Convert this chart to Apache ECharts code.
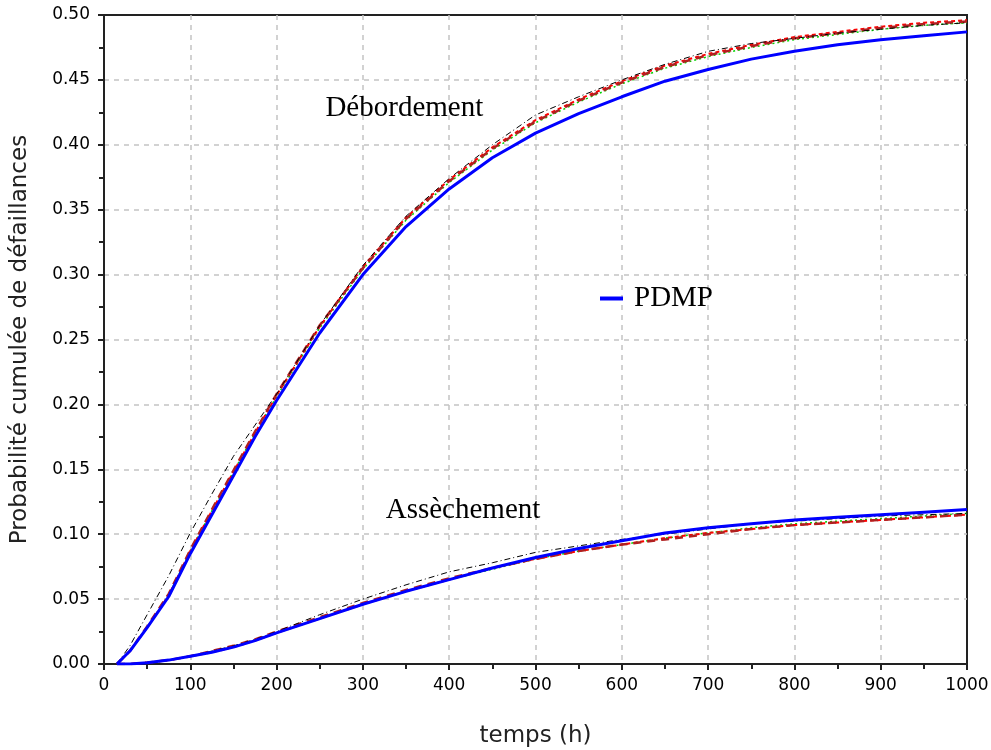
<!DOCTYPE html>
<html>
<head>
<meta charset="utf-8">
<script src="https://cdn.jsdelivr.net/npm/echarts@6/dist/echarts.min.js"></script>
<style>
  html, body { margin: 0; padding: 0; background: #fff; }
  #grid { width: 991px; height: 750px; }
</style>
</head>
<body>
<div id="grid"></div>
<script>
// temps (h)
const times = [15, 30, 50, 75, 100, 125, 150, 175, 200, 250, 300, 350, 400, 450, 500, 550, 600, 650, 700, 750, 800, 850, 900, 950, 1000];

// Débordement
const debPdmp = [0, 0.010, 0.028, 0.052, 0.085, 0.115, 0.145, 0.175, 0.203, 0.255, 0.300, 0.337, 0.366, 0.390, 0.409, 0.424, 0.437, 0.449, 0.458, 0.466, 0.472, 0.477, 0.481, 0.484, 0.487];
const debRed = [0, 0.010, 0.028, 0.053, 0.087, 0.118, 0.148, 0.178, 0.207, 0.260, 0.306, 0.344, 0.373, 0.398, 0.419, 0.435, 0.449, 0.461, 0.470, 0.477, 0.483, 0.487, 0.491, 0.494, 0.496];
const debDarkRed = [0, 0.010, 0.029, 0.054, 0.088, 0.119, 0.149, 0.179, 0.208, 0.261, 0.305, 0.343, 0.372, 0.397, 0.418, 0.434, 0.448, 0.460, 0.469, 0.476, 0.482, 0.486, 0.490, 0.493, 0.495];
const debGreen = [0, 0.010, 0.028, 0.053, 0.087, 0.118, 0.148, 0.178, 0.206, 0.259, 0.304, 0.342, 0.371, 0.396, 0.417, 0.433, 0.447, 0.459, 0.468, 0.475, 0.481, 0.485, 0.489, 0.492, 0.494];
const debBlack = [0, 0.014, 0.038, 0.068, 0.101, 0.131, 0.160, 0.184, 0.208, 0.261, 0.307, 0.345, 0.374, 0.400, 0.423, 0.437, 0.450, 0.462, 0.472, 0.478, 0.482, 0.486, 0.489, 0.492, 0.494];

// Assèchement
const assPdmp = [0, 0, 0.001, 0.003, 0.006, 0.009, 0.013, 0.018, 0.024, 0.035, 0.046, 0.056, 0.065, 0.074, 0.082, 0.089, 0.095, 0.101, 0.105, 0.108, 0.111, 0.113, 0.115, 0.117, 0.119];
const assRed = [0, 0, 0.001, 0.003, 0.006, 0.009, 0.013, 0.018, 0.024, 0.035, 0.046, 0.056, 0.065, 0.074, 0.081, 0.087, 0.092, 0.097, 0.101, 0.104, 0.107, 0.109, 0.111, 0.113, 0.115];
const assDarkRed = [0, 0, 0.001, 0.003, 0.006, 0.010, 0.014, 0.019, 0.025, 0.036, 0.047, 0.057, 0.066, 0.074, 0.081, 0.087, 0.092, 0.096, 0.100, 0.104, 0.107, 0.109, 0.111, 0.113, 0.115];
const assGreen = [0, 0, 0.001, 0.003, 0.006, 0.009, 0.013, 0.018, 0.024, 0.035, 0.046, 0.056, 0.065, 0.073, 0.081, 0.087, 0.092, 0.097, 0.101, 0.105, 0.108, 0.110, 0.112, 0.114, 0.116];
const assBlack = [0, 0, 0.001, 0.003, 0.006, 0.010, 0.014, 0.019, 0.025, 0.038, 0.050, 0.061, 0.071, 0.078, 0.086, 0.091, 0.096, 0.100, 0.104, 0.108, 0.110, 0.112, 0.114, 0.115, 0.116];

// annotations [t, p]
const curveLabels = [
  { text: 'Débordement', coord: [348, 0.428] },
  { text: 'Assèchement', coord: [416, 0.1186] },
];

const serif = '"Liberation Serif", "Times New Roman", serif';
const sans = '"DejaVu Sans", Verdana, sans-serif';

const myChart = echarts.init(document.getElementById('grid'));

function pairs(values) {
  return times.map((t, i) => [t, values[i]]);
}

function curve(name, values, color, width, type, z) {
  return {
    name: name,
    type: 'line',
    data: pairs(values),
    showSymbol: false,
    symbol: 'none',
    animation: false,
    z: z,
    lineStyle: { color: color, width: width, type: type },
    itemStyle: { color: color },
  };
}

const styles = [
  ['green', '#00d400', 1.5, [2, 3], 3],
  ['red', '#ff0000', 2, [4, 3], 4],
  ['darkred', '#b02020', 2.5, [8, 6], 5],
  ['black', '#000000', 1, [6, 3, 1, 3], 6],
];

let series = [];
const debSets = { green: debGreen, red: debRed, darkred: debDarkRed, black: debBlack };
const assSets = { green: assGreen, red: assRed, darkred: assDarkRed, black: assBlack };
styles.forEach((s) => {
  series.push(curve(s[0] + '-deb', debSets[s[0]], s[1], s[2], s[3], s[4]));
  series.push(curve(s[0] + '-ass', assSets[s[0]], s[1], s[2], s[3], s[4]));
});
let pdmpDeb = curve('PDMP', debPdmp, '#0000ff', 3, 'solid', 8);
pdmpDeb.markPoint = {
  symbol: 'circle',
  symbolSize: 0,
  silent: true,
  label: {
    show: true,
    position: 'inside',
    color: '#000',
    fontFamily: serif,
    fontSize: 29,
    formatter: (p) => p.name,
  },
  data: curveLabels.map((l) => ({ name: l.text, coord: l.coord })),
};
series.push(pdmpDeb);
series.push(curve('PDMP', assPdmp, '#0000ff', 3, 'solid', 8));

const axisCommon = {
  axisLine: { show: true, lineStyle: { color: '#222', width: 2 } },
  axisTick: { show: true, inside: false, length: 6, lineStyle: { color: '#222', width: 2 } },
  minorTick: { show: true, splitNumber: 2, length: 5, lineStyle: { color: '#222', width: 2 } },
  splitLine: {
    show: true,
    showMinLine: false,
    showMaxLine: false,
    lineStyle: { color: '#c4c4c4', type: [5, 5], width: 1.5 },
  },
};

const option = {
  backgroundColor: '#fff',
  animation: false,
  grid: {
    left: 104,
    right: 24,
    top: 15,
    bottom: 86,
    outerBoundsMode: 'none',
    show: true,
    borderColor: '#222',
    borderWidth: 2,
  },
  legend: {
    data: ['PDMP'],
    left: 600,
    top: 284,
    padding: 0,
    icon: 'rect',
    itemWidth: 23,
    itemHeight: 4,
    textStyle: {
      color: '#000',
      fontFamily: serif,
      fontSize: 29,
      padding: [0, 0, 0, 6],
    },
  },
  xAxis: {
    type: 'value',
    min: 0,
    max: 1000,
    interval: 100,
    name: 'temps (h)',
    nameLocation: 'middle',
    nameGap: 61,
    nameTextStyle: { color: '#222', fontFamily: sans, fontSize: 23 },
    ...axisCommon,
    axisLabel: {
      color: '#000',
      fontFamily: sans,
      fontSize: 17,
      margin: 13,
      showMinLabel: true,
      showMaxLabel: true,
      formatter: (v) => String(v),
    },
  },
  yAxis: {
    type: 'value',
    min: 0,
    max: 0.5,
    interval: 0.05,
    name: 'Probabilité cumulée de défaillances',
    nameLocation: 'middle',
    nameGap: 72,
    nameTextStyle: { color: '#222', fontFamily: sans, fontSize: 23 },
    ...axisCommon,
    axisLabel: {
      color: '#000',
      fontFamily: sans,
      fontSize: 17,
      margin: 14,
      formatter: (v) => v.toFixed(2),
    },
  },
  series: series,
};

myChart.setOption(option);
</script>
</body>
</html>
